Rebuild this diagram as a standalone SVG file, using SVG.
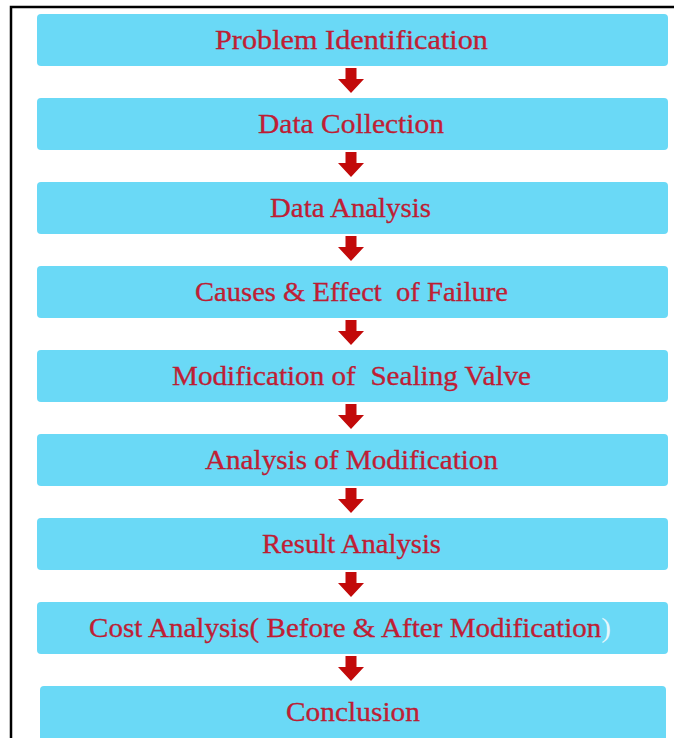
<svg xmlns="http://www.w3.org/2000/svg" width="674" height="738" viewBox="0 0 674 738">
<style>
.box{fill:#6ad9f6;}
.lbl{font-family:"Liberation Serif","DejaVu Serif",serif;font-size:27px;fill:#c41e35;stroke:#b01830;stroke-width:0.3;text-anchor:middle;}
.arr{fill:#c20a0a;}
</style>
<defs>
<path id="arrow" d="M-5.5,0 H5.5 V11 H13 L0,25 L-13,11 H-5.5 Z"/>
</defs>
<rect x="0" y="0" width="674" height="738" fill="#ffffff"/>
<path d="M11,738 V7 H674" fill="none" stroke="#000" stroke-width="2.5"/>
<g id="n1"><rect class="box" x="37" y="14" width="631" height="52" rx="4"/><text class="lbl" x="351.5" y="48.5" textLength="273" lengthAdjust="spacingAndGlyphs">Problem Identification</text></g>
<g id="n2"><rect class="box" x="37" y="98" width="631" height="52" rx="4"/><text class="lbl" x="351" y="132.5" textLength="186" lengthAdjust="spacingAndGlyphs">Data Collection</text></g>
<g id="n3"><rect class="box" x="37" y="182" width="631" height="52" rx="4"/><text class="lbl" x="350.5" y="216.5" textLength="161" lengthAdjust="spacingAndGlyphs">Data Analysis</text></g>
<g id="n4"><rect class="box" x="37" y="266" width="631" height="52" rx="4"/><text class="lbl" x="351.5" y="300.5" textLength="313" lengthAdjust="spacingAndGlyphs" xml:space="preserve">Causes &amp; Effect  of Failure</text></g>
<g id="n5"><rect class="box" x="37" y="350" width="631" height="52" rx="4"/><text class="lbl" x="351.5" y="384.5" textLength="359" lengthAdjust="spacingAndGlyphs" xml:space="preserve">Modification of  Sealing Valve</text></g>
<g id="n6"><rect class="box" x="37" y="434" width="631" height="52" rx="4"/><text class="lbl" x="351.5" y="468.5" textLength="293" lengthAdjust="spacingAndGlyphs">Analysis of Modification</text></g>
<g id="n7"><rect class="box" x="37" y="518" width="631" height="52" rx="4"/><text class="lbl" x="351.5" y="552.5" textLength="179" lengthAdjust="spacingAndGlyphs">Result Analysis</text></g>
<g id="n8"><rect class="box" x="37" y="602" width="631" height="52" rx="4"/><text class="lbl" x="350" y="636.5" textLength="522" lengthAdjust="spacingAndGlyphs">Cost Analysis( Before &amp; After Modification<tspan fill="#e6f7fc" stroke="none">)</tspan></text></g>
<g id="n9"><rect class="box" x="40" y="686" width="626" height="60" rx="4"/><text class="lbl" x="353" y="720.5" textLength="134" lengthAdjust="spacingAndGlyphs">Conclusion</text></g>
<g id="connectors">
<use href="#arrow" class="arr" x="351" y="68"/>
<use href="#arrow" class="arr" x="351" y="152"/>
<use href="#arrow" class="arr" x="351" y="236"/>
<use href="#arrow" class="arr" x="351" y="320"/>
<use href="#arrow" class="arr" x="351" y="404"/>
<use href="#arrow" class="arr" x="351" y="488"/>
<use href="#arrow" class="arr" x="351" y="572"/>
<use href="#arrow" class="arr" x="351" y="656"/>
</g>
</svg>
